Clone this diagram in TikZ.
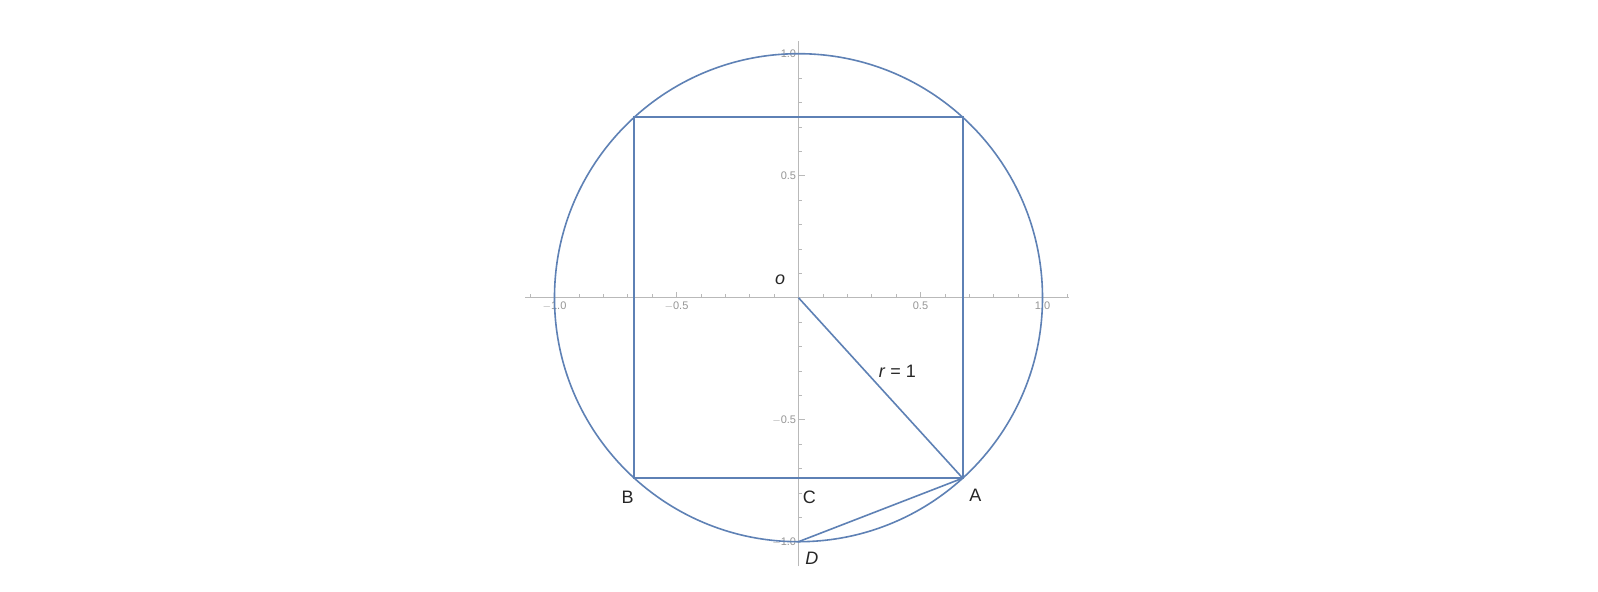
\documentclass[tikz,border=0pt]{standalone}
\usepackage{fontspec}
\setmainfont{Liberation Sans}
\begin{document}
\begin{tikzpicture}[x=244pt,y=244pt,
  geo/.style={draw=curveblue,line width=1.6pt},
  axisline/.style={draw=axisgray,line width=0.7pt},
  ticklab/.style={text=ticktext,font=\fontsize{11}{13}\selectfont,inner sep=1pt},
  ptlab/.style={text=black!85,font=\fontsize{18}{20}\selectfont,inner sep=0pt}]
\definecolor{curveblue}{RGB}{94,129,181}
\definecolor{axisgray}{RGB}{185,185,185}
\definecolor{ticktext}{RGB}{150,150,150}
\useasboundingbox[fill=white] (-3.2725,-1.2061) rectangle (3.2766,1.2201);
% axes
\draw[axisline] (-1.12,0) -- (1.11,0);
\draw[axisline] (0,-1.10) -- (0,1.05);
\foreach \t in {-11,...,11}{
  \pgfmathtruncatemacro{\m}{mod(abs(\t),5)}
  \ifnum\t=0\else
    \ifnum\m=0
      \draw[axisline] (\t/10,0) -- ++(0,6pt);
    \else
      \draw[axisline] (\t/10,0) -- ++(0,3.5pt);
    \fi
  \fi
}
\foreach \t in {-10,...,10}{
  \pgfmathtruncatemacro{\m}{mod(abs(\t),5)}
  \ifnum\t=0\else
    \ifnum\m=0
      \draw[axisline] (0,\t/10) -- ++(6pt,0);
    \else
      \draw[axisline] (0,\t/10) -- ++(3.5pt,0);
    \fi
  \fi
}
\foreach \v/\l in {-1/{$-$1.0},-0.5/{$-$0.5},0.5/0.5,1/1.0}{
  \node[ticklab,anchor=north] at (\v,-0.012) {\l};
}
\foreach \v/\l in {-1/{$-$1.0},-0.5/{$-$0.5},0.5/0.5,1/1.0}{
  \node[ticklab,anchor=east] at (-0.005,\v) {\l};
}
% points
\coordinate (O) at (0,0);
\coordinate (A) at (-47.7:1);
\coordinate (B) at (-132.3:1);
\coordinate (TR) at (47.7:1);
\coordinate (TL) at (132.3:1);
\coordinate (C) at (0,{sin(-47.7)});
\coordinate (D) at (0,-1);
% geometry
\draw[geo] (O) circle (1);
\draw[geo] (TL) -- (TR) -- (A) -- (B) -- cycle;
\draw[geo] (O) -- (A);
\draw[geo] (A) -- (D);
% labels
\node[ptlab] (lo) at (-0.075,0.075) {\textit{o}};
\node[ptlab] (lr) at (0.405,-0.30) {\textit{r} = 1};
\node[ptlab] (lB) at (-0.70,-0.82) {B};
\node[ptlab] (lC) at (0.045,-0.82) {C};
\node[ptlab] (lA) at (0.725,-0.808) {A};
\node[ptlab] (lD) at (0.055,-1.07) {\textit{D}};
\end{tikzpicture}
\end{document}
